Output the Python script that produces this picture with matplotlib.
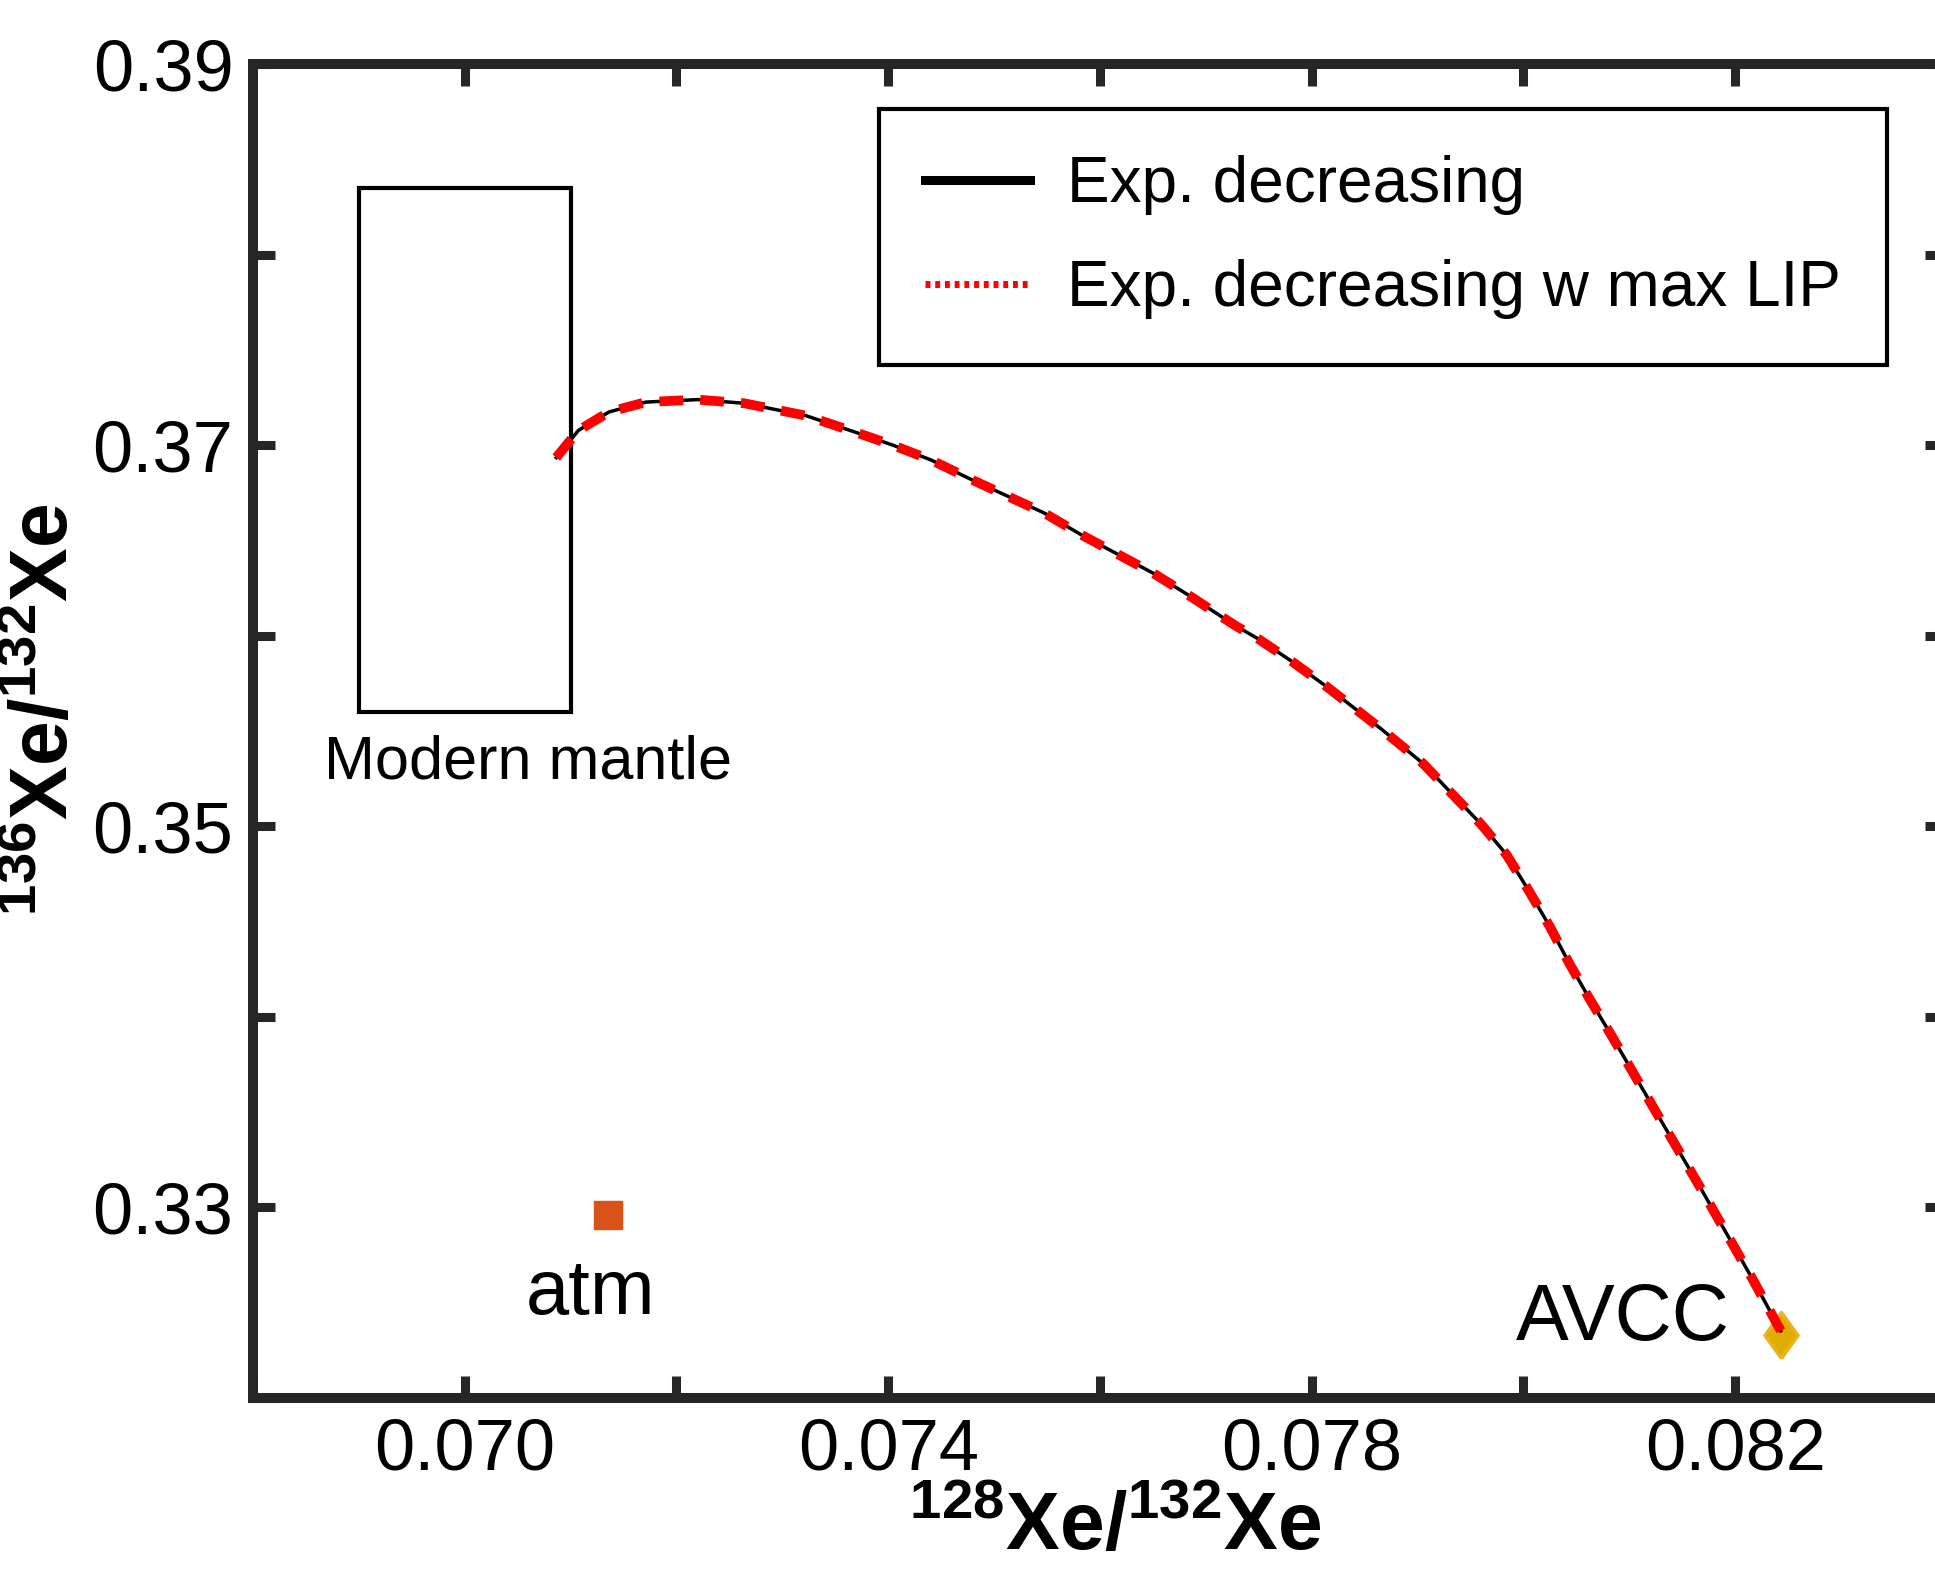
import numpy as np
import matplotlib
matplotlib.use("Agg")
import matplotlib.pyplot as plt
from matplotlib.lines import Line2D
from matplotlib.patches import Rectangle

plt.rcParams['font.family'] = ['Liberation Sans', 'DejaVu Sans']
plt.rcParams['mathtext.fontset'] = 'custom'
plt.rcParams['mathtext.rm'] = 'Liberation Sans'
plt.rcParams['mathtext.bf'] = 'Liberation Sans:bold'

# curve (128Xe/132Xe, 136Xe/132Xe)
xe128 = [0.070865, 0.071074, 0.071364, 0.071713, 0.072200, 0.072642, 0.073222,
         0.073675, 0.074046, 0.074406, 0.074766, 0.075475, 0.075811, 0.076508,
         0.076845, 0.077274, 0.077495, 0.077808, 0.078145, 0.078656, 0.079051,
         0.079318, 0.079597, 0.079840, 0.080049, 0.080247, 0.080432, 0.080618,
         0.080827, 0.081234, 0.081698, 0.082163, 0.082430]
xe136 = [0.369353, 0.370777, 0.371748, 0.372265, 0.372395, 0.372201, 0.371553,
         0.370712, 0.370000, 0.369223, 0.368252, 0.366440, 0.365340, 0.363269,
         0.362104, 0.360550, 0.359838, 0.358673, 0.357314, 0.355113, 0.353301,
         0.351748, 0.350129, 0.348511, 0.346634, 0.344757, 0.342816, 0.341003,
         0.339063, 0.335178, 0.330777, 0.326246, 0.323528]

atm = (0.07135, 0.3296)
avcc = (0.08243, 0.3233)
mantle_x = [0.069, 0.071]
mantle_y = [0.356, 0.3835]

xticks = [0.070, 0.074, 0.078, 0.082]
yticks = [0.33, 0.35, 0.37, 0.39]

fig = plt.figure(figsize=(19.35, 15.79), dpi=100)
ax = fig.add_axes([0.1307, 0.1146, 0.8755, 0.8448])

diamond = [(0, -1), (0.72, 0), (0, 1), (-0.72, 0), (0, -1)]
ax.plot(avcc[0], avcc[1], marker=diamond, ms=33, mfc='#DFAC00', mec='#EDB120',
        mew=2.5, ls='none', zorder=2)
ax.plot(atm[0], atm[1], marker='s', ms=20, mfc='#D95319', mec='#D95319',
        ls='none', zorder=2)

ax.plot(xe128, xe136, color='black', lw=2.5, zorder=3)
ax.plot(xe128, xe136, color='red', lw=7, ls=(0, (2.45, 1.75)), zorder=4)

ax.add_patch(Rectangle((mantle_x[0], mantle_y[0]), mantle_x[1] - mantle_x[0],
                       mantle_y[1] - mantle_y[0], fill=False, ec='black', lw=3))
ax.text(0.068667, 0.35252, 'Modern mantle', fontsize=44, ha='left', va='baseline')
ax.text(0.07058, 0.3244, 'atm', fontsize=56, ha='left', va='baseline')
ax.text(0.07993, 0.32304, 'AVCC', fontsize=57, ha='left', va='baseline')

ax.set_xlim(0.068, 0.084)
ax.set_ylim(0.32, 0.39)
ax.set_xticks(xticks)
ax.set_xticklabels(['%.3f' % v for v in xticks])
ax.set_xticks(np.arange(0.068, 0.0841, 0.002), minor=True)
ax.set_yticks(yticks)
ax.set_yticklabels(['%.2f' % v for v in yticks])
ax.set_yticks(np.arange(0.32, 0.391, 0.01), minor=True)

for s in ax.spines.values():
    s.set_linewidth(7.2)
    s.set_color('#262626')
ax.tick_params(which='both', direction='in', length=16, width=6.5,
               color='#262626', top=True, right=True, labelsize=52)
ax.tick_params(axis='x', which='both', pad=14)
ax.tick_params(axis='y', which='both', pad=14)

ax.set_xlabel(r'$\mathbf{^{128}Xe/^{132}Xe}$', fontsize=58, labelpad=4, x=0.509)
ax.set_ylabel(r'$\mathbf{^{136}Xe/^{132}Xe}$', fontsize=58, labelpad=6, y=0.516)

handles = [Line2D([], [], color='black', lw=6.5),
           Line2D([], [], color='red', lw=5, ls=(0, (0.7, 0.7)))]
leg = ax.legend(handles, ['Exp. decreasing', 'Exp. decreasing w max LIP'],
                loc='upper left', bbox_to_anchor=(0.3695, 0.9663),
                borderaxespad=0, fontsize=46, handlelength=1.64,
                handletextpad=0.58, borderpad=0.72, labelspacing=0.69,
                fancybox=False, framealpha=1, edgecolor='black')
leg.get_frame().set_linewidth(3)

fig.savefig('out.png', dpi=100)
